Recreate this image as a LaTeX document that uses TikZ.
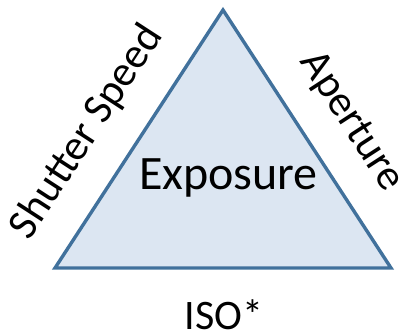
\documentclass[tikz,border=0pt]{standalone}
\usepackage{fontspec}
\setmainfont{Carlito}
\definecolor{triFill}{RGB}{220,230,242}
\definecolor{triLine}{RGB}{65,113,156}
\begin{document}
\begin{tikzpicture}[x=1pt,y=-1pt,
  lbl/.style={inner sep=0pt, font=\fontsize{43}{43}\selectfont}]
\useasboundingbox (0,0) rectangle (407,331);
\coordinate (top) at (223,10);
\coordinate (bl) at (55,268);
\coordinate (br) at (391,268);
\draw[triLine, fill=triFill, line width=3.4pt, line join=miter] (top) -- (br) -- (bl) -- cycle;
\node[lbl, font=\fontsize{48}{48}\selectfont] (exp) at (228.5,178) {Exposure};
\node[lbl, rotate=57] (ss) at (87,132) {Shutter Speed};
\node[lbl, rotate=-57] (ap) at (351,122) {Aperture};
\node[lbl, font=\fontsize{42}{42}\selectfont] (iso) at (224,315) {ISO*};
\end{tikzpicture}
\end{document}
